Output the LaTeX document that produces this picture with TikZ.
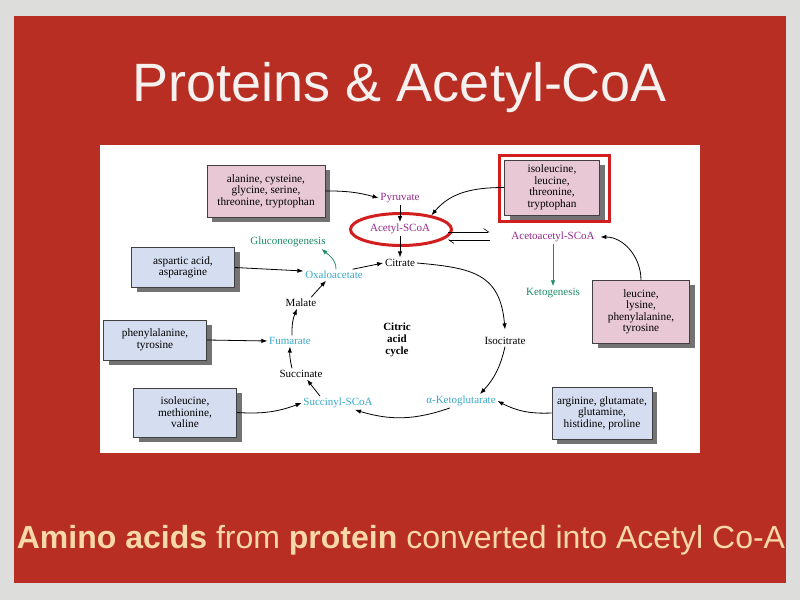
\documentclass[tikz,border=0pt]{standalone}
\usepackage{fontspec}
\setmainfont{Liberation Serif}
\newfontfamily\slidefont{Liberation Sans}
\usepackage{tikz}
\usetikzlibrary{shapes,arrows}
\usetikzlibrary{arrows.meta}
\usetikzlibrary{calc}
\usetikzlibrary{shadows}
\definecolor{slidegray}{RGB}{221,221,219}
\definecolor{slidered}{RGB}{184,46,34}
\definecolor{titlewhite}{RGB}{246,240,238}
\definecolor{peach}{RGB}{248,216,168}
\definecolor{boxpink}{RGB}{232,200,213}
\definecolor{boxblue}{RGB}{213,221,240}
\definecolor{purp}{RGB}{150,40,140}
\definecolor{cyanlabel}{RGB}{58,168,200}
\definecolor{greenlabel}{RGB}{28,140,100}
\definecolor{framered}{RGB}{210,30,30}
\tikzstyle{aabox} = [draw=black!75, rectangle, align=center,
    font=\fontsize{11.3}{11.5}\selectfont,
    drop shadow={shadow xshift=5pt, shadow yshift=-5pt, fill=black!55, opacity=1}]
\tikzstyle{pinkbox} = [aabox, fill=boxpink]
\tikzstyle{bluebox} = [aabox, fill=boxblue]
\tikzstyle{metab} = [font=\fontsize{11}{12}\selectfont, inner sep=1.5pt]
\tikzstyle{harp} = [-{Straight Barb[harpoon, length=5pt, width=7pt]}, line width=0.6pt]

\begin{document}
\begin{tikzpicture}[x=1pt, y=1pt, >={Latex[length=6pt, width=4.5pt]}, line width=0.8pt]
    \useasboundingbox (0,0) rectangle (800,600);
    \fill[slidegray] (0,0) rectangle (800,600);
    \fill[slidered] (14,17) rectangle (786,584);
    \fill[white] (100,147) rectangle (700,455);

    \node[anchor=base, text=titlewhite, font=\slidefont\fontsize{54}{60}\selectfont] (title) at (400,498) {Proteins \& Acetyl-CoA};
    \node[anchor=base, text=peach, font=\slidefont\fontsize{32}{36}\selectfont] (caption) at (401,52) {\textbf{Amino acids} from \textbf{protein} converted into Acetyl Co-A};

    \node[pinkbox, minimum width=118, minimum height=52] (smallaa) at (266,409) {alanine, cysteine,\\glycine, serine,\\threonine, tryptophan};
    \node[pinkbox, minimum width=95, minimum height=55] (isoaa) at (552,412.5) {isoleucine,\\leucine,\\threonine,\\tryptophan};
    \node[pinkbox, minimum width=97, minimum height=63] (ketoaa) at (641,288) {leucine,\\lysine,\\phenylalanine,\\tyrosine};
    \node[bluebox, minimum width=103, minimum height=40] (aspaa) at (183,332.5) {aspartic acid,\\asparagine};
    \node[bluebox, minimum width=103, minimum height=40] (phenaa) at (155,260) {phenylalanine,\\tyrosine};
    \node[bluebox, minimum width=103, minimum height=49] (ileaa) at (185,187.5) {isoleucine,\\methionine,\\valine};
    \node[bluebox, minimum width=100, minimum height=52] (argaa) at (602,187) {arginine, glutamate,\\glutamine,\\histidine, proline};
    \draw[framered, line width=3pt] ($(isoaa.north west)+(-5,4)$) rectangle ($(isoaa.south east)+(10,-6)$);

    \node[ellipse, draw=framered, line width=3pt, minimum width=101, minimum height=32] (acetylring) at (401,370.5) {};
    \node[metab, text=purp] (pyruvate) at (400,402) {Pyruvate};
    \node[metab, text=purp] (acetyl) at (400,371) {Acetyl-SCoA};
    \node[metab] (citrate) at (400,337) {Citrate};
    \node[metab, text=purp] (acetoacetyl) at (553,363) {Acetoacetyl-SCoA};
    \node[metab, text=greenlabel] (ketogenesis) at (553,307) {Ketogenesis};
    \node[metab, text=greenlabel] (gluco) at (288,358) {Gluconeogenesis};
    \node[metab, text=cyanlabel] (oxalo) at (334,325) {Oxaloacetate};
    \node[metab] (malate) at (301,297) {Malate};
    \node[metab, text=cyanlabel] (fumarate) at (290,259) {Fumarate};
    \node[metab] (succinate) at (301,226) {Succinate};
    \node[metab, text=cyanlabel] (succinyl) at (338,197) {Succinyl-SCoA};
    \node[metab, text=cyanlabel] (akg) at (461,199) {α-Ketoglutarate};
    \node[metab] (isocitrate) at (505,259) {Isocitrate};
    \node[metab, align=center, font=\bfseries\fontsize{11}{11.7}\selectfont] (cycle) at (397,260) {Citric\\acid\\cycle};

    \draw[->] (smallaa.east) to[bend left=8] (pyruvate.west);
    \draw[->] (pyruvate) -- (acetyl);
    \draw[->] (acetyl) -- (citrate);
    \draw[->] (isoaa.west) to[out=180, in=50] (acetylring.25);
    \draw[harp] ($(acetylring.east)+(-5,-2.5)$) -- ($(acetoacetyl.west)+(-20,5)$);
    \draw[harp] ($(acetoacetyl.west)+(-20,-3)$) -- ($(acetylring.east)+(-5,-10.5)$);
    \draw[->, greenlabel] (acetoacetyl.south) -- (ketogenesis.north);
    \draw[->] (ketoaa.north) to[out=90, in=0] ([xshift=4]acetoacetyl.east);
    \draw[->] (aspaa.east) -- ([yshift=4]oxalo.west);
    \draw[->, greenlabel] ([xshift=2]oxalo.north) to[out=90, in=-40] ([xshift=-6]gluco.south east);
    \draw[->] ([xshift=-12]oxalo.north east) -- (citrate.west);
    \draw[->] ([xshift=-7]malate.north east) -- ([xshift=-8]oxalo.south);
    \draw[->] ([xshift=2]fumarate.north) to[bend left=12] ([xshift=-4]malate.south);
    \draw[->] (phenaa.east) -- (fumarate.west);
    \draw[->] ([xshift=-9]succinate.north) to[bend left=8] (fumarate.south);
    \draw[->] ([xshift=-18]succinyl.north) -- ([xshift=6]succinate.south);
    \draw[->] (ileaa.east) to[bend right=12] (succinyl.west);
    \draw[->] ([xshift=-11]akg.south) to[bend left=18] ([xshift=17]succinyl.south);
    \draw[->] (argaa.west) to[bend left=15] (akg.east);
    \draw[->] (citrate.east) to[out=-5, in=95, looseness=1.3] ([yshift=6]isocitrate.north);
    \draw[->] (isocitrate.south) to[bend left=15] ([xshift=19]akg.north);
\end{tikzpicture}
\end{document}
